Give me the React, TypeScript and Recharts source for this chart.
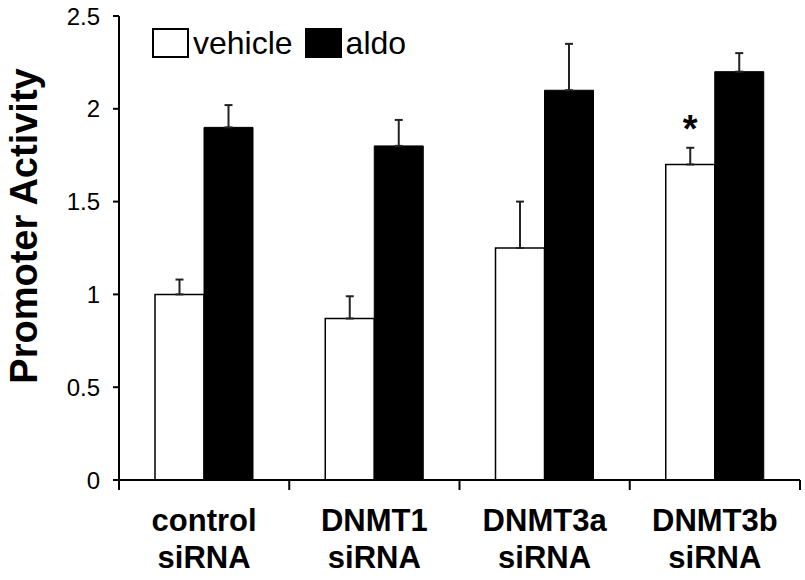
import { BarChart, Bar, XAxis, YAxis, ErrorBar, LabelList } from "recharts"

const categories = ["control siRNA", "DNMT1 siRNA", "DNMT3a siRNA", "DNMT3b siRNA"]
const vehicle = [1.0, 0.87, 1.25, 1.7]
const vehicleErr = [0.08, 0.12, 0.25, 0.09]
const aldo = [1.9, 1.8, 2.1, 2.2]
const aldoErr = [0.12, 0.14, 0.25, 0.1]
const significance = ["", "", "", "*"]
const yTicks = [0, 0.5, 1, 1.5, 2, 2.5]

const seriesInfo = [
  { key: "vehicle", label: "vehicle", fill: "#FFFFFF" },
  { key: "aldo", label: "aldo", fill: "#000000" },
]

// error bars only go up, so the low side is 0
const data = categories.map((name, i) => ({
  name,
  vehicle: vehicle[i],
  vehicleErr: [0, vehicleErr[i]],
  aldo: aldo[i],
  aldoErr: [0, aldoErr[i]],
  sig: significance[i],
}))

const FONT = "Arial, 'Liberation Sans', Helvetica, sans-serif"

function CategoryTick(props: any) {
  const { x, y, payload, index, visibleTicksCount } = props
  const count = visibleTicksCount || categories.length
  const axisWidth = Number(props.width) || 680
  const half = axisWidth / count / 2
  const lines = String(payload.value).split(" ")
  return (
    <g>
      <line x1={x - half} y1={y} x2={x - half} y2={y + 10} stroke="#000" strokeWidth={2} />
      {index === count - 1 && (
        <line x1={x + half} y1={y} x2={x + half} y2={y + 10} stroke="#000" strokeWidth={2} />
      )}
      {lines.map((line, i) => (
        <text
          key={i}
          x={x}
          y={y + 51 + i * 37}
          textAnchor="middle"
          fontFamily={FONT}
          fontWeight="bold"
          fontSize={31}
          fill="#000"
        >
          {line}
        </text>
      ))}
    </g>
  )
}

function YLabel(props: any) {
  const vb = props.viewBox || { x: 0, y: 16, width: 119, height: 464 }
  const cy = vb.y + vb.height / 2 - 22
  return (
    <text
      transform={`translate(37, ${cy}) rotate(-90)`}
      textAnchor="middle"
      fontFamily={FONT}
      fontWeight="bold"
      fontSize={38}
      fill="#000"
    >
      Promoter Activity
    </text>
  )
}

function renderSig(props: any) {
  const { x, y, width, value } = props
  if (!value) return null
  return (
    <text
      x={Number(x) + Number(width) / 2}
      y={Number(y) - 22}
      textAnchor="middle"
      fontFamily={FONT}
      fontWeight="bold"
      fontSize={38}
      fill="#000"
    >
      {value}
    </text>
  )
}

export default function App() {
  return (
    <div style={{ position: "absolute", left: 0, top: 0, width: 805, height: 580, background: "#fff", fontFamily: FONT }}>
      <BarChart
        width={805}
        height={580}
        data={data}
        margin={{ top: 16, right: 5, left: 0, bottom: 0 }}
        barGap={0}
        barSize={49}
      >
        <XAxis
          dataKey="name"
          height={100}
          tickLine={false}
          tickSize={0}
          tickMargin={0}
          axisLine={{ stroke: "#000", strokeWidth: 2 }}
          tick={<CategoryTick />}
          interval={0}
        />
        <YAxis
          width={119}
          domain={[0, 2.5]}
          ticks={yTicks}
          tickSize={6}
          tickMargin={13}
          axisLine={{ stroke: "#000", strokeWidth: 2 }}
          tickLine={{ stroke: "#000", strokeWidth: 2 }}
          tick={{ fill: "#000", fontSize: 24, fontFamily: FONT }}
          label={<YLabel />}
        />
        <Bar dataKey="vehicle" fill="#FFFFFF" stroke="#000" strokeWidth={1.5} isAnimationActive={false}>
          <ErrorBar dataKey="vehicleErr" width={4} strokeWidth={2} stroke="#222" />
          <LabelList dataKey="sig" content={renderSig} />
        </Bar>
        <Bar dataKey="aldo" fill="#000000" stroke="#000" strokeWidth={1} isAnimationActive={false}>
          <ErrorBar dataKey="aldoErr" width={4} strokeWidth={2} stroke="#222" />
        </Bar>
      </BarChart>
      <div style={{ position: "absolute", left: 152, top: 28, display: "flex", alignItems: "center", height: 30 }}>
        {seriesInfo.map((s) => (
          <div key={s.key} style={{ display: "flex", alignItems: "center", marginRight: 12 }}>
            <div
              style={{
                width: 33,
                height: 26,
                background: s.fill,
                border: "2px solid #000",
                marginRight: 4,
              }}
            />
            <span style={{ fontSize: 32, lineHeight: "30px", color: "#000" }}>{s.label}</span>
          </div>
        ))}
      </div>
    </div>
  )
}
